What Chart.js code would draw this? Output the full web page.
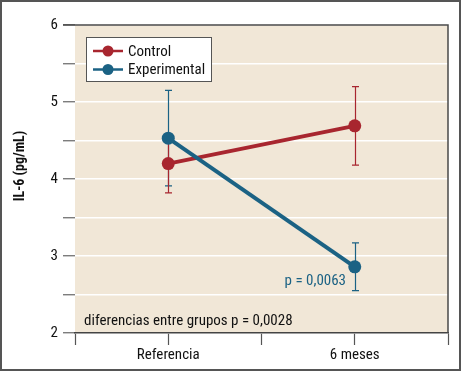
<!DOCTYPE html>
<html>
<head>
<meta charset="utf-8">
<script src="https://cdn.jsdelivr.net/npm/chart.js@4/dist/chart.umd.min.js"></script>
<style>
html,body{margin:0;padding:0;background:#fff;}
canvas{display:block;}
</style>
</head>
<body>
<canvas id="c" width="461" height="371"></canvas>
<script>
// ---- data ----
const categories = ['Referencia', '6 meses'];
const categoryX = [0.5, 1.5];
const controlMean = [4.20, 4.69];
const controlErr = [0.38, 0.51];
const experimentalMean = [4.53, 2.86];
const experimentalErr = [0.62, 0.31];
const yTickLabels = [2, 3, 4, 5, 6];
const seriesNames = ['Control', 'Experimental'];
const yTitle = 'IL-6 (pg/mL)';
const noteGroups = 'diferencias entre grupos p = 0,0028';
const noteExperimental = 'p = 0,0063';

const RED = '#a8262f';
const TEAL = '#1b6284';
const FONT = "'Roboto Condensed','Liberation Sans Narrow',sans-serif";

const toPts = (ys) => ys.map((y, i) => ({x: categoryX[i], y}));

const decorPlugin = {
  id: 'decor',
  beforeDraw(chart) {
    const {ctx, chartArea: a} = chart;
    ctx.save();
    ctx.fillStyle = '#fff';
    ctx.fillRect(0, 0, chart.width, chart.height);
    ctx.fillStyle = '#f1e7d7';
    ctx.fillRect(a.left, a.top, a.right - a.left, a.bottom - a.top);
    ctx.restore();
  },
  beforeDatasetsDraw(chart) {
    const {ctx} = chart;
    const xs = chart.scales.x, ys = chart.scales.y;
    const sets = [
      {m: experimentalMean, e: experimentalErr, c: TEAL},
      {m: controlMean, e: controlErr, c: RED}
    ];
    ctx.save();
    ctx.lineWidth = 1.2;
    sets.forEach(s => {
      ctx.strokeStyle = s.c;
      s.m.forEach((v, i) => {
        const px = Math.round(xs.getPixelForValue(categoryX[i])) + 0.5;
        const top = ys.getPixelForValue(v + s.e[i]);
        const bot = ys.getPixelForValue(v - s.e[i]);
        ctx.beginPath();
        ctx.moveTo(px, top); ctx.lineTo(px, bot);
        ctx.moveTo(px - 3.5, top); ctx.lineTo(px + 3.5, top);
        ctx.moveTo(px - 3.5, bot); ctx.lineTo(px + 3.5, bot);
        ctx.stroke();
      });
    });
    ctx.restore();
  },
  afterDraw(chart) {
    const {ctx, chartArea: a} = chart;
    ctx.save();
    // plot frame top & right
    ctx.strokeStyle = '#4a4a4a';
    ctx.lineWidth = 1.5;
    ctx.beginPath();
    ctx.moveTo(a.left - 12, a.top);
    ctx.lineTo(a.right, a.top);
    ctx.lineTo(a.right, a.bottom);
    ctx.stroke();
    // outer frame
    ctx.strokeStyle = '#555';
    ctx.lineWidth = 2;
    ctx.strokeRect(1, 1, chart.width - 2, chart.height - 2);
    // legend
    const lx = 86, ly = 37, lw = 125, lh = 44;
    ctx.fillStyle = '#fff';
    ctx.fillRect(lx, ly, lw, lh);
    ctx.strokeStyle = '#555';
    ctx.lineWidth = 1;
    ctx.strokeRect(lx + 0.5, ly + 0.5, lw, lh);
    const cols = [RED, TEAL];
    ctx.font = '15px ' + FONT;
    ctx.textBaseline = 'middle';
    seriesNames.forEach((n, i) => {
      const yy = 51 + i * 18.5;
      ctx.strokeStyle = cols[i];
      ctx.lineWidth = 2.5;
      ctx.beginPath(); ctx.moveTo(93, yy); ctx.lineTo(123, yy); ctx.stroke();
      ctx.fillStyle = cols[i];
      ctx.beginPath(); ctx.arc(108, yy, 5.5, 0, Math.PI * 2); ctx.fill();
      ctx.fillStyle = '#111';
      ctx.textAlign = 'left';
      ctx.fillText(n, 128, yy + 1);
    });
    // notes
    ctx.fillStyle = '#111';
    ctx.textAlign = 'left';
    ctx.fillText(noteGroups, 84, 321);
    ctx.fillStyle = TEAL;
    ctx.textAlign = 'right';
    ctx.fillText(noteExperimental, 346, 281);
    // y title
    ctx.fillStyle = '#111';
    ctx.font = 'bold 14px ' + FONT;
    ctx.translate(20, 166);
    ctx.rotate(-Math.PI / 2);
    ctx.textAlign = 'center';
    ctx.fillText(yTitle, 0, 0);
    ctx.restore();
  }
};

new Chart(document.getElementById('c'), {
  type: 'line',
  data: {
    datasets: [
      {label: seriesNames[0], data: toPts(controlMean), borderColor: RED, backgroundColor: RED,
       borderWidth: 4, pointRadius: 6.5, pointHoverRadius: 6.5, pointBorderWidth: 0, order: 2},
      {label: seriesNames[1], data: toPts(experimentalMean), borderColor: TEAL, backgroundColor: TEAL,
       borderWidth: 4, pointRadius: 6.5, pointHoverRadius: 6.5, pointBorderWidth: 0, order: 1}
    ]
  },
  options: {
    responsive: false,
    animation: false,
    events: [],
    layout: {padding: {top: 25, right: 13, left: 0, bottom: 0}},
    plugins: {legend: {display: false}, tooltip: {enabled: false}},
    scales: {
      x: {
        type: 'linear', min: 0, max: 2,
        afterFit(s) { s.height = 38; },
        afterBuildTicks(s) { s.ticks = [0, 0.5, 1, 1.5, 2].map(v => ({value: v})); },
        ticks: {
          autoSkip: false, maxRotation: 0, padding: 1,
          color: '#111', font: {family: FONT, size: 15},
          callback: (v) => { const i = categoryX.indexOf(v); return i >= 0 ? categories[i] : ''; }
        },
        grid: {drawOnChartArea: false, drawTicks: true, tickLength: 12, tickColor: '#555', tickWidth: 1.2},
        border: {display: true, color: '#444', width: 1.5}
      },
      y: {
        min: 2, max: 6,
        afterFit(s) { s.width = 75; },
        afterBuildTicks(s) { s.ticks = [2, 2.5, 3, 3.5, 4, 4.5, 5, 5.5, 6].map(v => ({value: v})); },
        ticks: {
          autoSkip: false, padding: 5, color: '#111', font: {family: FONT, size: 15},
          callback: (v) => yTickLabels.includes(v) ? String(v) : ''
        },
        grid: {color: '#ffffff', lineWidth: 1.5, drawTicks: true, tickLength: 12, tickColor: '#666', tickWidth: 1.2},
        border: {display: false}
      }
    }
  },
  plugins: [decorPlugin]
});
</script>
</body>
</html>
